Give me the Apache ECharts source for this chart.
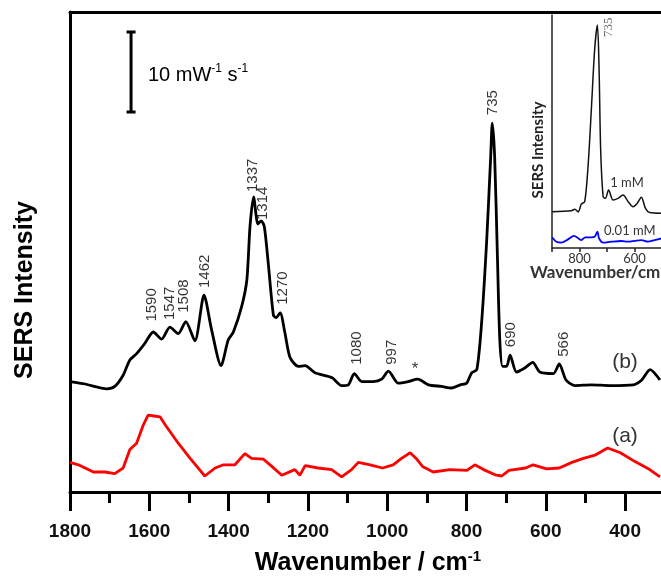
<!DOCTYPE html>
<html>
<head>
<meta charset="utf-8">
<script src="https://cdn.jsdelivr.net/npm/echarts@6/dist/echarts.min.js"></script>
<style>
  html, body { margin: 0; padding: 0; background: #fff; }
  #chart { width: 661px; height: 577px; }
</style>
</head>
<body>
<div id="chart"></div>
<script>
/* spectrum (b): wavenumber / intensity */
var bWave = [1800, 1762, 1707, 1687, 1666, 1649, 1632, 1611, 1590, 1569, 1548, 1527, 1508, 1485, 1462, 1443, 1419, 1401, 1388, 1367,
    1354, 1346, 1337, 1326, 1318, 1310, 1300, 1287, 1280, 1270, 1258, 1245, 1224, 1207, 1182, 1140, 1115, 1098, 1083, 1064,
    1035, 1014, 997, 972, 947, 923, 896, 863, 837, 816, 800, 787, 774, 762, 749, 739, 735, 729, 722, 716,
    709, 699, 690, 674, 653, 633, 615, 581, 566, 549, 526, 485, 438, 379, 358, 337, 312];
var bInt = [13.8, 13.5, 12.9, 13.2, 14.6, 16.5, 17.3, 18.6, 20.0, 19.1, 20.6, 19.8, 21.3, 18.9, 24.6, 20.3, 15.8, 19.0, 20.0, 23.2,
    26.5, 33.2, 36.9, 33.5, 33.9, 33.2, 28.6, 22.1, 21.8, 22.4, 19.9, 16.8, 15.7, 15.8, 14.9, 14.3, 13.3, 13.4, 14.8, 13.8,
    13.8, 14.1, 15.1, 13.6, 13.8, 14.1, 13.4, 13.2, 13.0, 13.4, 13.6, 14.9, 15.3, 21.1, 31.5, 41.9, 46.1, 41.9, 29.4, 19.0,
    15.7, 15.7, 17.1, 15.0, 15.5, 16.2, 15.0, 14.8, 16.0, 14.0, 13.3, 13.4, 13.3, 13.4, 14.0, 15.3, 14.0];

/* spectrum (a) */
var aWave = [1800, 1779, 1741, 1712, 1687, 1666, 1649, 1632, 1615, 1603, 1588, 1573, 1560, 1527, 1497, 1460, 1434, 1413, 1384, 1359,
    1342, 1312, 1291, 1266, 1233, 1220, 1207, 1174, 1140, 1115, 1090, 1073, 1043, 1012, 985, 964, 942, 927, 911, 884,
    842, 799, 779, 757, 725, 711, 693, 651, 632, 598, 566, 534, 505, 476, 444, 412, 375, 338, 312];
var aInt = [3.7, 3.4, 2.5, 2.5, 2.3, 3.0, 5.3, 6.1, 8.4, 9.6, 9.5, 9.4, 8.4, 6.1, 4.2, 2.0, 3.0, 3.4, 3.4, 4.8,
    4.2, 4.1, 3.2, 2.1, 2.8, 2.1, 3.3, 3.0, 2.8, 1.9, 2.8, 3.7, 3.4, 3.0, 3.4, 4.2, 4.9, 4.2, 3.2, 2.5,
    2.8, 2.7, 3.4, 2.8, 2.1, 2.0, 2.7, 3.0, 3.4, 2.9, 3.0, 3.7, 4.2, 4.6, 5.5, 4.9, 3.8, 2.8, 1.9];

/* peak labels on (b) */
var peakText = ['1590', '1547', '1508', '1462', '1337', '1314', '1270', '1080', '997', '735', '690', '566'];
var peakLabelX = [1594, 1548, 1514, 1460, 1338, 1313, 1262, 1077, 989, 733, 689, 554];
var peakLabelY = [21.3, 21.5, 22.4, 25.5, 37.5, 34.0, 23.4, 15.9, 15.9, 47.1, 18.1, 16.9];
var starPos = [930, 15.3];

/* scale bar: 10 units */
var scaleBarX = 1646;
var scaleBarY = [47.5, 57.5];

/* inset spectra */
var inWave = [900, 830, 817, 805, 793, 781, 769, 757, 745, 735, 729, 723, 714, 706, 694, 678, 660, 642, 623, 605, 590, 575, 560, 545, 499];
var in1mM = [15.6, 16.0, 16.6, 15.5, 18.9, 19.9, 34.9, 59.2, 85.0, 95.7, 77.8, 42.1, 22.0, 21.3, 24.9, 20.6, 21.3, 22.7, 19.9, 17.7, 19.2, 21.8, 17.0, 15.2, 14.9];
var inWaveLow = [900, 884, 866, 842, 820, 805, 793, 779, 757, 745, 735, 729, 714, 684, 648, 623, 599, 575, 551, 527, 499];
var in001mM = [4.6, 2.7, 2.3, 3.7, 5.2, 4.2, 3.4, 4.6, 4.6, 4.8, 7.0, 4.2, 2.3, 2.7, 3.0, 2.7, 3.1, 3.4, 2.7, 3.4, 4.2];
var insetPeak = [735, 90.6];

var pairs = function (xs, ys) {
    return xs.map(function (x, i) { return [x, ys[i]]; });
};

var myChart = echarts.init(document.getElementById('chart'));
var arial = '"Liberation Sans", Arial, sans-serif';
var inFont = 'Lato, "Open Sans", sans-serif';

var option = {
    backgroundColor: '#fff',
    animation: false,
    textStyle: { fontFamily: arial },
    grid: [
        { left: 70, top: 12, width: 634.4, height: 480, outerBoundsMode: 'none', containLabel: false },
        { left: 552, top: 15, width: 110, height: 233, outerBoundsMode: 'none', containLabel: false }
    ],
    xAxis: [
        {
            type: 'value', gridIndex: 0, min: 200, max: 1800, interval: 200, inverse: true,
            axisLine: { lineStyle: { color: '#000', width: 3 } },
            axisTick: { length: 19, lineStyle: { color: '#000', width: 3 } },
            minorTick: { show: true, splitNumber: 2, length: 11, lineStyle: { color: '#000', width: 3 } },
            axisLabel: { margin: 30, fontSize: 19, fontWeight: 'bold', color: '#111', fontFamily: arial,
                formatter: function (v) { return String(v); } },
            splitLine: { show: false }
        },
        {
            type: 'value', gridIndex: 0, min: 200, max: 1800, inverse: true, position: 'top',
            axisLine: { lineStyle: { color: '#000', width: 3 } },
            axisTick: { show: false }, axisLabel: { show: false }, splitLine: { show: false }
        },
        {
            type: 'value', gridIndex: 1, min: 500, max: 900, interval: 100, inverse: true,
            axisLine: { lineStyle: { color: '#222', width: 1.5 } },
            axisTick: { length: 4, lineStyle: { color: '#222', width: 1.5 } },
            axisLabel: {
                margin: 4, fontSize: 13, color: '#333', fontFamily: inFont,
                formatter: function (v) { return (v === 600 || v === 800) ? String(v) : ''; }
            },
            splitLine: { show: false }
        }
    ],
    yAxis: [
        {
            type: 'value', gridIndex: 0, min: 0, max: 60,
            axisLine: { show: true, lineStyle: { color: '#000', width: 3 } },
            axisTick: { show: false }, axisLabel: { show: false }, splitLine: { show: false }
        },
        {
            type: 'value', gridIndex: 1, min: 0, max: 100,
            axisLine: { show: true, lineStyle: { color: '#222', width: 1.5 } },
            axisTick: { show: false }, axisLabel: { show: false }, splitLine: { show: false }
        }
    ],
    series: [
        {
            name: '(b)', type: 'line', xAxisIndex: 0, yAxisIndex: 0,
            data: pairs(bWave, bInt), smooth: 0.25, showSymbol: false,
            lineStyle: { color: '#000', width: 2.8 }
        },
        {
            name: '(a)', type: 'line', xAxisIndex: 0, yAxisIndex: 0,
            data: pairs(aWave, aInt), smooth: false, showSymbol: false,
            lineStyle: { color: '#ff0000', width: 2.8 }
        },
        {
            name: 'scale', type: 'line', xAxisIndex: 0, yAxisIndex: 0,
            data: scaleBarY.map(function (v) { return [scaleBarX, v]; }),
            symbol: 'rect', symbolSize: [9, 3], showSymbol: true,
            itemStyle: { color: '#000' }, lineStyle: { color: '#000', width: 3 }
        },
        {
            name: 'peaks', type: 'scatter', xAxisIndex: 0, yAxisIndex: 0,
            data: peakText.map(function (t, i) { return [peakLabelX[i], peakLabelY[i], t]; }),
            symbolSize: 0,
            label: {
                show: true, position: 'inside', rotate: 90, align: 'left', verticalAlign: 'middle',
                fontSize: 15, color: '#000', fontFamily: arial,
                formatter: function (p) { return p.value[2]; }
            }
        },
        {
            name: 'star', type: 'scatter', xAxisIndex: 0, yAxisIndex: 0,
            data: [starPos], symbolSize: 0,
            label: { show: true, position: 'inside', formatter: '*', fontSize: 17, color: '#000' }
        },
        {
            name: '1 mM', type: 'line', xAxisIndex: 2, yAxisIndex: 1,
            data: pairs(inWave, in1mM), smooth: 0.3, showSymbol: false,
            lineStyle: { color: '#111', width: 1.5 }
        },
        {
            name: '0.01 mM', type: 'line', xAxisIndex: 2, yAxisIndex: 1,
            data: pairs(inWaveLow, in001mM), smooth: 0.3, showSymbol: false,
            lineStyle: { color: '#0000ff', width: 1.8 }
        },
        {
            name: 'insetPeak', type: 'scatter', xAxisIndex: 2, yAxisIndex: 1,
            data: [insetPeak], symbolSize: 0,
            label: {
                show: true, position: 'inside', rotate: 90, align: 'left', verticalAlign: 'middle',
                offset: [0, 11], fontSize: 13, color: '#444', fontFamily: '"Liberation Serif", serif',
                formatter: '735'
            }
        }
    ],
    graphic: [
        {
            type: 'text', x: 25, y: 290, rotation: Math.PI / 2,
            style: { text: 'SERS Intensity', fontSize: 25, fontWeight: 'bold', fontFamily: arial,
                fill: '#000', align: 'center', verticalAlign: 'middle' }
        },
        {
            type: 'text', x: 368, y: 563,
            style: {
                text: '{m|Wavenumber / cm}{s|-1}', align: 'center', verticalAlign: 'middle',
                rich: {
                    m: { fontSize: 25, fontWeight: 'bold', fontFamily: arial, fill: '#000', lineHeight: 28 },
                    s: { fontSize: 15, fontWeight: 'bold', fontFamily: arial, fill: '#000', verticalAlign: 'top', lineHeight: 15 }
                }
            }
        },
        {
            type: 'text', x: 148, y: 75,
            style: {
                text: '{m|10 mW}{s|-1}{m| s}{s|-1}', align: 'left', verticalAlign: 'middle',
                rich: {
                    m: { fontSize: 20, fontFamily: arial, fill: '#000', lineHeight: 24 },
                    s: { fontSize: 12, fontFamily: arial, fill: '#000', verticalAlign: 'top', lineHeight: 12 }
                }
            }
        },
        {
            type: 'text', x: 625, y: 362,
            style: { text: '(b)', fontSize: 21, fontFamily: arial, fill: '#333', align: 'center', verticalAlign: 'middle' }
        },
        {
            type: 'text', x: 625, y: 436,
            style: { text: '(a)', fontSize: 21, fontFamily: arial, fill: '#333', align: 'center', verticalAlign: 'middle' }
        },
        {
            type: 'text', x: 538, y: 150, rotation: Math.PI / 2,
            style: { text: 'SERS Intensity', fontSize: 15, fontWeight: 'bold', fontFamily: inFont,
                fill: '#222', align: 'center', verticalAlign: 'middle' }
        },
        {
            type: 'text', x: 627, y: 183,
            style: { text: '1 mM', fontSize: 13, fontFamily: inFont, fill: '#333', align: 'center', verticalAlign: 'middle' }
        },
        {
            type: 'text', x: 604, y: 231,
            style: { text: '0.01 mM', fontSize: 13, fontFamily: inFont, fill: '#333', align: 'left', verticalAlign: 'middle' }
        },
        {
            type: 'text', x: 530, y: 273,
            style: {
                text: '{m|Wavenumber/cm}{s|-1}', align: 'left', verticalAlign: 'middle',
                rich: {
                    m: { fontSize: 17, fontWeight: 'bold', fontFamily: inFont, fill: '#333', lineHeight: 20 },
                    s: { fontSize: 10, fontWeight: 'bold', fontFamily: inFont, fill: '#333', verticalAlign: 'top', lineHeight: 10 }
                }
            }
        }
    ]
};
myChart.setOption(option);
</script>
</body>
</html>
